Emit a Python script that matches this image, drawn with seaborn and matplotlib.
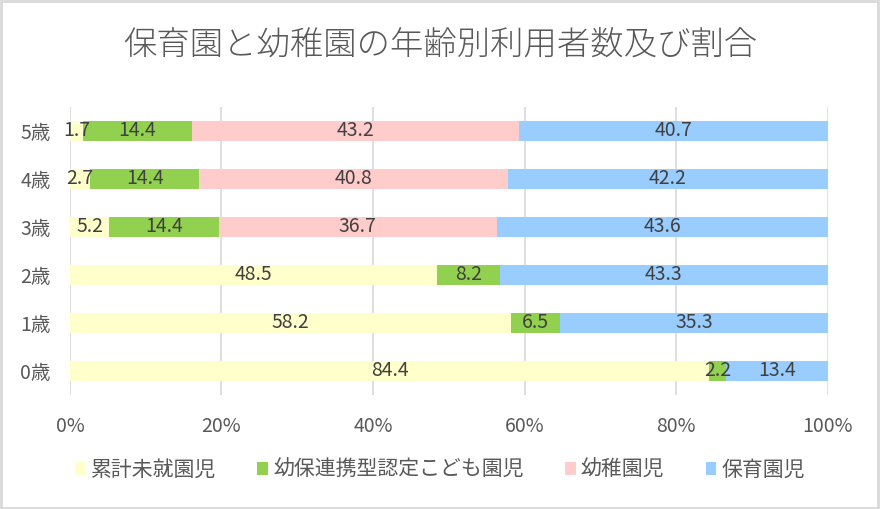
import matplotlib
matplotlib.use("Agg")
import matplotlib.pyplot as plt
from matplotlib.patches import Rectangle, Patch
import seaborn as sns
import pandas as pd
import numpy as np

# data (percent)
ages = ["0歳", "1歳", "2歳", "3歳", "4歳", "5歳"]
series = ["累計未就園児", "幼保連携型認定こども園児", "幼稚園児", "保育園児"]
mishuen = [84.4, 58.2, 48.5, 5.2, 2.7, 1.7]
kodomoen = [2.2, 6.5, 8.2, 14.4, 14.4, 14.4]
yochien = [0.0, 0.0, 0.0, 36.7, 40.8, 43.2]
hoikuen = [13.4, 35.3, 43.3, 43.6, 42.2, 40.7]
colors = ["#FFFFCC", "#92D050", "#FFCCCC", "#99CCFF"]

sns.set_theme(style="white")
plt.rcParams["font.family"] = ["Noto Sans CJK JP", "DejaVu Sans"]

df = pd.DataFrame({"age": ages, series[0]: mishuen, series[1]: kodomoen,
                   series[2]: yochien, series[3]: hoikuen})
vals = df[series].to_numpy()
total = vals.sum(axis=1, keepdims=True)
pct = vals / total * 100
cum = np.cumsum(pct, axis=1)

# top category first so 5歳 appears on top
order = ages[::-1]

fig = plt.figure(figsize=(8.8, 5.09), dpi=100)
ax = fig.add_axes([0.0795, 0.224, 0.861, 0.566])

# draw cumulative bars from the right-most segment back to the first
for i in range(len(series) - 1, -1, -1):
    plot_df = pd.DataFrame({"age": ages, "x": cum[:, i]})
    sns.barplot(data=plot_df, y="age", x="x", order=order, color=colors[i],
                width=0.42, saturation=1, ax=ax, edgecolor="none", zorder=2)

# segment labels
ypos = {a: order.index(a) for a in ages}
for r, a in enumerate(ages):
    left = 0.0
    for i in range(len(series)):
        w = pct[r, i]
        if vals[r, i] > 0:
            ax.text(left + w / 2, ypos[a], f"{vals[r, i]:.1f}", ha="center",
                    va="center", fontsize=14, color="#404040", zorder=3)
        left += w

ax.set_xlim(0, 100)
ax.set_ylim(len(ages) - 0.5, -0.5)
ax.set_xticks([0, 20, 40, 60, 80, 100])
ax.set_xticklabels([f"{t}%" for t in [0, 20, 40, 60, 80, 100]])
ax.xaxis.grid(True, color="#D9D9D9", linewidth=1.2, zorder=0)
ax.set_axisbelow(True)
ax.set_xlabel("")
ax.set_ylabel("")
for s in ax.spines.values():
    s.set_visible(False)
ax.tick_params(axis="both", length=0, labelsize=14, labelcolor="#595959")
ax.tick_params(axis="x", pad=15)
ax.tick_params(axis="y", pad=14)

fig.text(0.5, 0.91, "保育園と幼稚園の年齢別利用者数及び割合", ha="center", va="center",
         fontsize=24, color="#595959", fontweight="light")

handles = [Patch(facecolor=c, edgecolor="none") for c in colors]
fig.legend(handles, series, loc="center", bbox_to_anchor=(0.5, 0.077), ncol=4,
           frameon=False, fontsize=15, handlelength=0.5, handleheight=0.6,
           handletextpad=0.25, columnspacing=2.0, labelcolor="#595959")

fig.patches.append(Rectangle((0.001, 0.001), 0.997, 0.997, transform=fig.transFigure,
                             fill=False, edgecolor="#D9D9D9", linewidth=2))

fig.savefig("out.png", dpi=100)
